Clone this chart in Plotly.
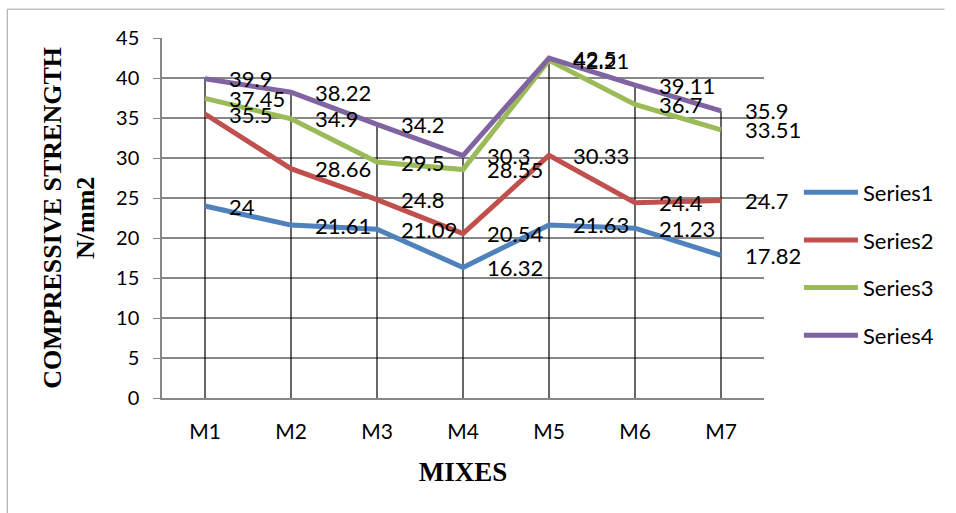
import plotly.graph_objects as go

mixes = ["M1", "M2", "M3", "M4", "M5", "M6", "M7"]
series_names = ["Series1", "Series2", "Series3", "Series4"]
series1 = [24, 21.61, 21.09, 16.32, 21.63, 21.23, 17.82]
series2 = [35.5, 28.66, 24.8, 20.54, 30.33, 24.4, 24.7]
series3 = [37.45, 34.9, 29.5, 28.55, 42.21, 36.7, 33.51]
series4 = [39.9, 38.22, 34.2, 30.3, 42.5, 39.11, 35.9]
y_ticks = [0, 5, 10, 15, 20, 25, 30, 35, 40, 45]
y_title = "COMPRESSIVE STRENGTH<br>N/mm2"
x_title = "MIXES"

colors = ["#4F81BD", "#C0504D", "#9BBB59", "#8064A2"]
all_series = [series1, series2, series3, series4]
xs = list(range(len(mixes)))

fig = go.Figure()

# drop lines from axis to highest point
dx, dy = [], []
for i in xs:
    top = max(s[i] for s in all_series)
    dx += [i, i, None]
    dy += [0, top, None]
fig.add_trace(go.Scatter(x=dx, y=dy, mode="lines", line=dict(color="black", width=1.2),
                         showlegend=False, hoverinfo="skip"))

for k, (name, vals) in enumerate(zip(series_names, all_series)):
    fig.add_trace(go.Scatter(x=xs, y=vals, mode="lines", name=name,
                             line=dict(color=colors[k], width=5),
                             legendgroup=name))

annotations = []
for vals in all_series:
    for i, v in zip(xs, vals):
        annotations.append(dict(x=i, y=v, xref="x", yref="y", text=f"{v:g}",
                                showarrow=False, xanchor="left", yanchor="middle",
                                xshift=22, font=dict(family="Lato", size=22, color="black")))

annotations.append(dict(x=-0.155, y=0.5, xref="paper", yref="paper", text=y_title,
                        showarrow=False, textangle=-90, xanchor="center", yanchor="middle",
                        font=dict(family="Liberation Serif", size=26, color="black", weight="bold")))

fig.update_layout(
    width=956, height=513,
    margin=dict(l=162, r=192, t=38, b=115),
    paper_bgcolor="white", plot_bgcolor="white",
    font=dict(family="Lato", size=20, color="black"),
    annotations=annotations,
    showlegend=True,
    legend=dict(x=1.058, y=0.629, xanchor="left", yanchor="top",
                font=dict(family="Lato", size=22, color="black"),
                tracegroupgap=16, itemwidth=54, bgcolor="rgba(0,0,0,0)"),
    shapes=[
        dict(type="line", xref="paper", yref="paper", x0=-0.257, x1=-0.257, y0=-0.32, y1=1.08,
             line=dict(color="#A0A0A0", width=1)),
        dict(type="line", xref="paper", yref="paper", x0=-0.257, x1=1.3, y0=1.08, y1=1.08,
             line=dict(color="#A0A0A0", width=1)),
    ],
)

fig.update_xaxes(
    tickmode="array", tickvals=xs, ticktext=mixes, range=[-0.5, 6.5],
    showgrid=False, showline=True, linecolor="#888888", linewidth=1.5,
    ticks="", ticklabelstandoff=14, tickfont=dict(family="Lato", size=21),
    title=dict(text=x_title, font=dict(family="Liberation Serif", size=27, weight="bold"), standoff=20),
    zeroline=False,
)
fig.update_yaxes(
    range=[0, 45], tickmode="array", tickvals=y_ticks,
    showgrid=True, gridcolor="#888888", gridwidth=1.5,
    showline=True, linecolor="#888888", linewidth=1.5,
    ticks="outside", ticklen=7, tickcolor="#888888", ticklabelstandoff=10,
    tickfont=dict(family="Lato", size=20),
    zeroline=False,
)

fig.write_html("out.html")
